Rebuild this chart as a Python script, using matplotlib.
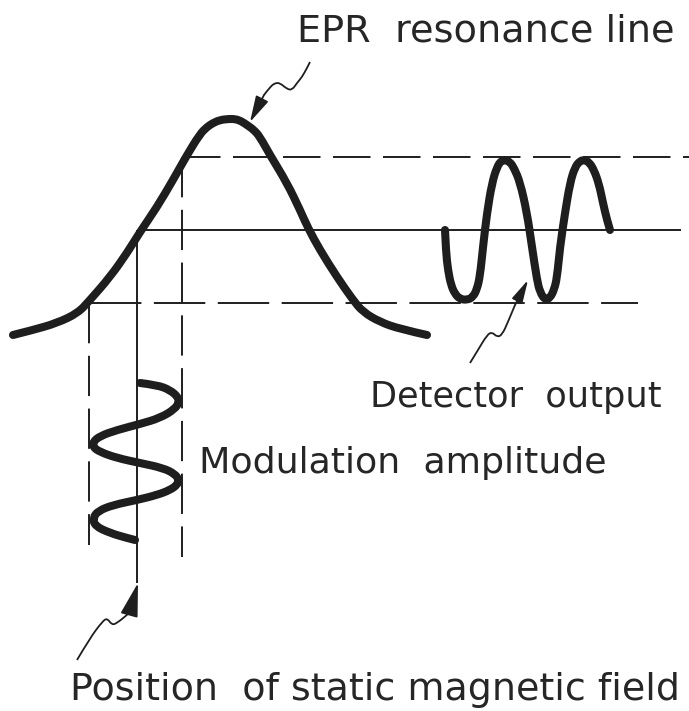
#!/usr/bin/env python3

import matplotlib.pyplot as plt
from matplotlib.path import Path
from matplotlib.patches import FancyArrowPatch, PathPatch

plt.rcParams['lines.scale_dashes'] = False
plt.rcParams['font.family'] = 'DejaVu Sans'

INK = '#1e1e1e'

# EPR resonance line (pixel coords, y down)
line_x = [13, 33, 57, 78, 90, 110, 127, 140, 157, 173, 187, 200, 207, 213, 220,
          228, 235, 241, 247, 254, 260, 270, 287, 300, 308, 320, 337, 353, 363,
          380, 400, 427]
line_y = [335, 330, 323, 313, 300, 277, 253, 232, 207, 180, 155, 134, 127, 123, 120,
          119, 119, 121, 125, 130, 137, 155, 183, 210, 228, 250, 277, 300, 312,
          322, 329, 335]

# detector output wave
detector_x = [445, 446, 448, 451, 455, 460, 467, 473, 477, 480, 483, 487, 492, 497,
              501, 505, 510, 514, 520, 527, 532, 537, 540, 545, 550, 554, 557, 560,
              565, 570, 575, 580, 584, 589, 594, 599, 603, 607, 610]
detector_y = [230, 252, 270, 285, 294, 299, 300, 297, 289, 276, 247, 213, 183, 167,
              161, 160, 162, 168, 182, 213, 247, 280, 292, 300, 298, 290, 278, 247,
              213, 183, 167, 161, 160, 162, 170, 184, 203, 220, 230]

# modulation of the field
modulation_x = [140, 157, 170, 178, 179, 175, 160, 140, 117, 100, 93, 93, 100, 117,
                140, 163, 175, 179, 177, 170, 157, 137, 113, 98, 93, 95, 110, 127, 135]
modulation_y = [383, 385, 390, 397, 402, 409, 418, 424, 430, 436, 442, 447, 452, 458,
                463, 468, 474, 480, 485, 490, 495, 500, 505, 511, 518, 526, 533, 538, 540]

# horizontal levels: top, centre, bottom of detector swing
level_y = [157, 230, 303]
level_x0 = [183, 138, 90]
level_x1 = [689, 681, 638]
level_dash = [(27, 9), None, (37, 9)]

# field positions: lower edge, centre, upper edge of modulation
field_x = [89, 137, 182]
field_y0 = [303, 230, 157]
field_y1 = [545, 583, 557]
field_dash = [(29, 9), None, (29, 9)]

# pointer arrows (last point is the tip)
epr_arrow_x = [310, 307, 302, 297, 292, 287, 280, 275, 270, 264, 250]
epr_arrow_y = [62, 68, 77, 83, 90, 89, 83, 83, 87, 95, 122]
det_arrow_x = [470, 478, 487, 492, 497, 502, 508, 515, 528]
det_arrow_y = [363, 350, 335, 332, 337, 335, 322, 305, 280]
pos_arrow_x = [77, 90, 102, 107, 112, 117, 127, 130, 138]
pos_arrow_y = [660, 638, 622, 618, 625, 623, 615, 612, 583]

labels = ['EPR  resonance line', 'Detector  output', 'Modulation  amplitude',
          'Position  of static magnetic field']
label_x = [297, 370, 199, 70]
label_y = [41, 407, 473, 700]
label_size = [27.5, 25.3, 26.2, 27.4]


def smooth(xs, ys):
    # quadratic pieces through the midpoints, traced points as control points
    pts = list(zip(xs, ys))
    verts = [pts[0]]
    codes = [Path.MOVETO]
    for i in range(1, len(pts) - 1):
        mid = ((pts[i][0] + pts[i + 1][0]) / 2, (pts[i][1] + pts[i + 1][1]) / 2)
        if i == len(pts) - 2:
            mid = pts[-1]
        verts += [pts[i], mid]
        codes += [Path.CURVE3, Path.CURVE3]
    return Path(verts, codes)


fig = plt.figure(figsize=(6.89, 7.11), dpi=100)
ax = fig.add_axes([0, 0, 1, 1])
ax.set_xlim(0, 689)
ax.set_ylim(711, 0)
ax.axis('off')

for y, x0, x1, dash in zip(level_y, level_x0, level_x1, level_dash):
    ln, = ax.plot([x0, x1], [y, y], color=INK, lw=1.4, solid_capstyle='butt')
    if dash:
        ln.set_dashes(dash)

for x, y0, y1, dash in zip(field_x, field_y0, field_y1, field_dash):
    ln, = ax.plot([x, x], [y0, y1], color=INK, lw=1.4, solid_capstyle='butt')
    if dash:
        ln.set_dashes(dash)

for xs, ys in [(line_x, line_y), (detector_x, detector_y), (modulation_x, modulation_y)]:
    p = PathPatch(smooth(xs, ys), fill=False, edgecolor=INK, lw=5.8, zorder=3)
    p.set_capstyle('round')
    p.set_joinstyle('round')
    ax.add_patch(p)

for xs, ys, hl, hw in [(epr_arrow_x, epr_arrow_y, 16, 4.2),
                       (det_arrow_x, det_arrow_y, 14, 3.5),
                       (pos_arrow_x, pos_arrow_y, 21, 5.5)]:
    p = PathPatch(smooth(xs[:-1], ys[:-1]), fill=False, edgecolor=INK, lw=1.3, zorder=4)
    ax.add_patch(p)
    ax.add_patch(FancyArrowPatch((xs[-2], ys[-2]), (xs[-1], ys[-1]),
                                 arrowstyle=f'-|>,head_length={hl},head_width={hw}',
                                 mutation_scale=1, shrinkA=0, shrinkB=0,
                                 color=INK, lw=1.3, zorder=4))

for txt, x, y, s in zip(labels, label_x, label_y, label_size):
    ax.text(x, y, txt, fontsize=s, color='#262626', ha='left', va='baseline')

plt.savefig('out.png', dpi=100, facecolor='white')
